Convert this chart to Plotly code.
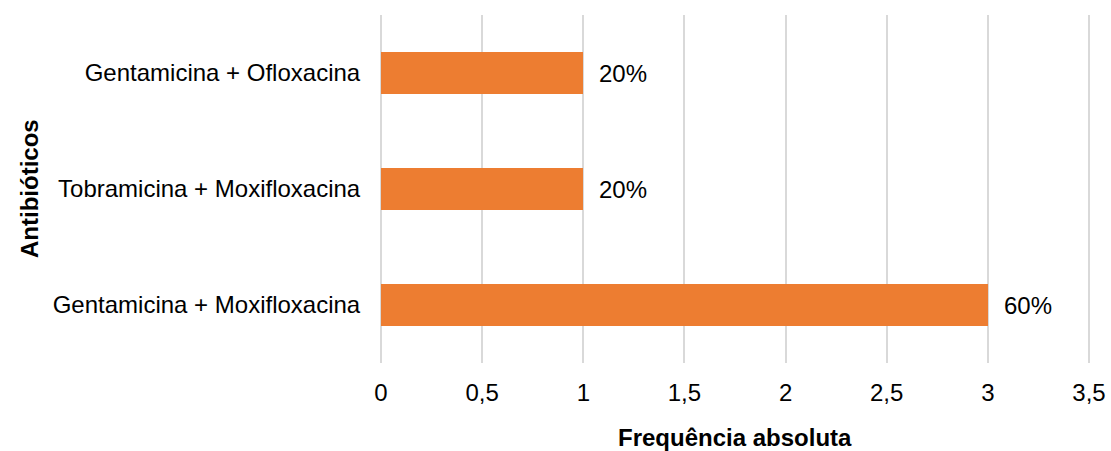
import plotly.graph_objects as go

# Antibiotic combinations (bottom to top) and absolute frequency
combinacoes = [
    "Gentamicina + Moxifloxacina",
    "Tobramicina + Moxifloxacina",
    "Gentamicina + Ofloxacina",
]
frequencias = [3, 1, 1]
total = sum(frequencias)
percentuais = [f"{round(v / total * 100)}%" for v in frequencias]

x_ticks = [0, 0.5, 1, 1.5, 2, 2.5, 3, 3.5]
x_tick_labels = ["0", "0,5", "1", "1,5", "2", "2,5", "3", "3,5"]

FONT = "Liberation Sans, Arial, sans-serif"
FONT_SIZE = 24
BAR_COLOR = "#ED7D31"
GRID_COLOR = "#D9D9D9"

fig = go.Figure(
    go.Bar(
        x=frequencias,
        y=combinacoes,
        orientation="h",
        width=0.355,
        marker=dict(color=BAR_COLOR, line=dict(width=0)),
        hoverinfo="skip",
    )
)

# value labels just right of each bar end
for v, cat, pct in zip(frequencias, combinacoes, percentuais):
    fig.add_annotation(
        x=v, y=cat, text=pct, showarrow=False,
        xanchor="left", yanchor="middle", xshift=14,
        font=dict(family=FONT, size=FONT_SIZE, color="#000000"),
    )

# axis titles
fig.add_annotation(
    text="<b>Frequência absoluta</b>", xref="paper", yref="paper",
    x=0.5, y=0, yshift=-74, showarrow=False, xanchor="center", yanchor="middle",
    font=dict(family=FONT, size=FONT_SIZE, color="#000000"),
)
fig.add_annotation(
    text="<b>Antibióticos</b>", xref="paper", yref="paper",
    x=0, y=0.5, xshift=-350, showarrow=False, textangle=-90,
    xanchor="center", yanchor="middle",
    font=dict(family=FONT, size=FONT_SIZE, color="#000000"),
)

fig.update_xaxes(
    range=[-0.01, 3.51],
    tickvals=x_ticks,
    ticktext=x_tick_labels,
    showgrid=True,
    gridcolor=GRID_COLOR,
    gridwidth=1.5,
    zeroline=False,
    showline=False,
    ticks="outside",
    ticklen=8,
    tickcolor="rgba(0,0,0,0)",
    tickfont=dict(family=FONT, size=FONT_SIZE, color="#000000"),
    automargin=False,
)
fig.update_yaxes(
    range=[-0.5, 2.5],
    showgrid=False,
    zeroline=False,
    showline=False,
    ticks="outside",
    ticklen=13,
    tickcolor="rgba(0,0,0,0)",
    tickfont=dict(family=FONT, size=FONT_SIZE, color="#000000"),
    automargin=False,
)

fig.update_layout(
    width=1111,
    height=451,
    margin=dict(l=379, r=20, t=15, b=88),
    paper_bgcolor="white",
    plot_bgcolor="white",
    showlegend=False,
    bargap=0,
)

fig.write_html("out.html")
